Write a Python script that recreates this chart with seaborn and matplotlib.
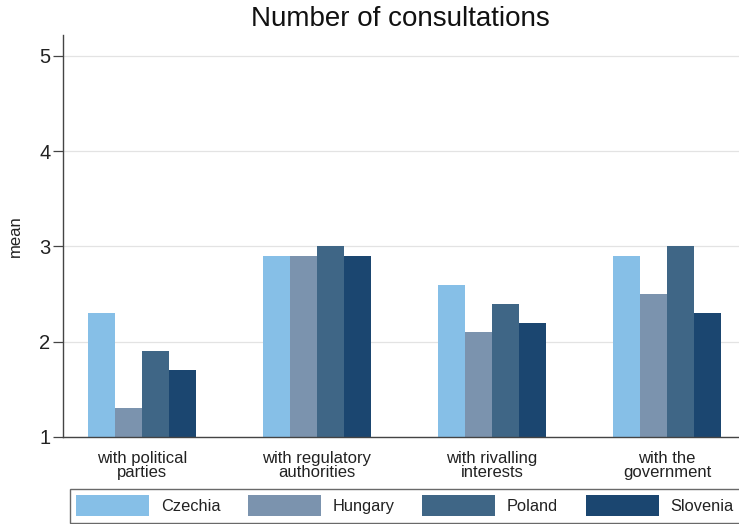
import matplotlib
matplotlib.use("Agg")
import matplotlib.pyplot as plt
import seaborn as sns
import pandas as pd

# Mean number of consultations by partner type and country
categories = ["with political\nparties", "with regulatory\nauthorities",
              "with rivalling\ninterests", "with the\ngovernment"]
countries = ["Czechia", "Hungary", "Poland", "Slovenia"]
czechia = [2.3, 2.9, 2.6, 2.9]
hungary = [1.3, 2.9, 2.1, 2.5]
poland = [1.9, 3.0, 2.4, 3.0]
slovenia = [1.7, 2.9, 2.2, 2.3]
yticks = [1, 2, 3, 4, 5]

colors = ["#86BFE7", "#7B93AE", "#3F6686", "#1B4670"]

rows = []
for country, vals in zip(countries, [czechia, hungary, poland, slovenia]):
    for cat, v in zip(categories, vals):
        rows.append({"category": cat, "country": country, "mean": v})
df = pd.DataFrame(rows)

sns.set_theme(style="white")
plt.rcParams["font.family"] = ["Liberation Sans", "DejaVu Sans"]

fig = plt.figure(figsize=(7.39, 5.24), dpi=100)
ax = fig.add_axes([63 / 739, 1 - 437 / 524, 1 - 63 / 739, (437 - 35) / 524])

sns.barplot(data=df, x="category", y="mean", hue="country",
            hue_order=countries, palette=colors, width=0.617, gap=0,
            saturation=1, linewidth=0, errorbar=None, ax=ax, legend=True)

ax.set_ylim(1, 5.22)
ax.set_xlim(-0.451, 3.411)
ax.set_yticks(yticks)
ax.set_yticklabels([str(t) for t in yticks], fontsize=14.5, color="#222222")
ax.yaxis.grid(True, color="#E3E3E3", linewidth=0.9)
ax.set_axisbelow(True)
ax.tick_params(axis="y", left=True, length=7, width=0.9, color="#444444", pad=2)
ax.tick_params(axis="x", bottom=False, labelsize=12, labelcolor="#222222", pad=4)
for lbl in ax.get_xticklabels():
    lbl.set_linespacing(0.95)
ax.set_xlabel("")
ax.set_ylabel("mean", fontsize=12, color="#222222", labelpad=12)
for side in ["top", "right"]:
    ax.spines[side].set_visible(False)
for side in ["left", "bottom"]:
    ax.spines[side].set_color("#444444")
    ax.spines[side].set_linewidth(1.0)

fig.suptitle("Number of consultations", x=400 / 739, y=1 - 6 / 524,
             fontsize=20, va="top", color="#111111")

handles, labels = ax.get_legend_handles_labels()
ax.get_legend().remove()
leg = fig.legend(handles, labels, loc="upper left", ncol=4,
                 bbox_to_anchor=(70 / 739, 1 - 489 / 524),
                 fontsize=11.8, handlelength=4.45, handleheight=1.6,
                 handletextpad=0.72, columnspacing=1.68, borderaxespad=0,
                 frameon=True, fancybox=False, edgecolor="#444444",
                 borderpad=0.38)
leg.get_frame().set_linewidth(1.0)
for t in leg.get_texts():
    t.set_color("#222222")

fig.savefig("out.png", dpi=100)
